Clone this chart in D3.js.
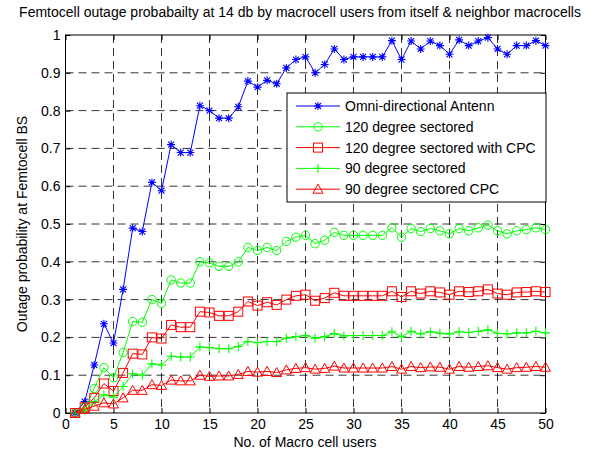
<!DOCTYPE html>
<html><head><meta charset="utf-8">
<script src="https://cdn.jsdelivr.net/npm/d3@7"></script>
<style>body{margin:0;background:#fff}svg{display:block}text{font-family:"Liberation Sans",Arial,sans-serif}</style>
</head><body><svg id="c" width="595" height="450"></svg>
<script>
const users = d3.range(1, 51);
const omni = [0,0.03,0.127,0.236,0.185,0.327,0.489,0.48,0.61,0.588,0.71,0.689,0.689,0.813,0.80,0.78,0.78,0.81,0.878,0.862,0.88,0.871,0.913,0.935,0.942,0.90,0.922,0.963,0.935,0.942,0.942,0.942,0.942,0.985,0.935,0.984,0.963,0.984,0.972,0.949,0.987,0.972,0.984,0.993,0.963,0.949,0.972,0.972,0.985,0.972];
const sec120 = [0,0.015,0.065,0.12,0.093,0.16,0.242,0.24,0.30,0.29,0.352,0.344,0.344,0.40,0.397,0.388,0.388,0.40,0.438,0.43,0.438,0.43,0.454,0.465,0.47,0.448,0.457,0.478,0.47,0.47,0.47,0.47,0.47,0.49,0.465,0.488,0.48,0.488,0.482,0.474,0.488,0.482,0.49,0.497,0.482,0.474,0.482,0.485,0.49,0.485];
const sec120cpc = [0,0.015,0.04,0.078,0.058,0.106,0.157,0.155,0.20,0.197,0.233,0.227,0.227,0.268,0.266,0.257,0.257,0.268,0.295,0.284,0.293,0.286,0.30,0.31,0.313,0.297,0.304,0.318,0.31,0.31,0.31,0.31,0.31,0.322,0.307,0.322,0.316,0.322,0.319,0.313,0.322,0.32,0.322,0.327,0.316,0.313,0.319,0.32,0.322,0.32];
const sec90 = [0,0.008,0.03,0.048,0.042,0.07,0.104,0.10,0.13,0.127,0.15,0.148,0.148,0.175,0.173,0.17,0.17,0.176,0.189,0.186,0.189,0.189,0.198,0.202,0.205,0.198,0.202,0.21,0.204,0.205,0.205,0.205,0.205,0.215,0.202,0.216,0.209,0.215,0.211,0.209,0.215,0.213,0.216,0.22,0.211,0.209,0.212,0.212,0.216,0.212];
const sec90cpc = [0,0.01,0.018,0.027,0.024,0.04,0.06,0.06,0.075,0.073,0.087,0.085,0.085,0.10,0.097,0.098,0.098,0.102,0.11,0.108,0.11,0.107,0.114,0.118,0.12,0.116,0.118,0.124,0.119,0.119,0.119,0.119,0.119,0.123,0.116,0.123,0.12,0.122,0.121,0.116,0.123,0.121,0.123,0.125,0.12,0.116,0.12,0.121,0.123,0.121];
const seriesNames = ["Omni-directional Antenn","120 degree sectored","120 degree sectored with CPC","90 degree sectored","90 degree sectored CPC"];
const seriesColors = ["#0000ff","#00ff00","#ff0000","#00ff00","#ff0000"];
const seriesMarkers = ["star","circle","square","plus","triangle"];
const xTicks = [0,5,10,15,20,25,30,35,40,45,50];
const yTicks = [0,0.1,0.2,0.3,0.4,0.5,0.6,0.7,0.8,0.9,1];
const titleText = "Femtocell outage probabailty at 14 db by macrocell users from itself & neighbor macrocells";
const xLabel = "No. of Macro cell users";
const yLabel = "Outage probability at Femtocell BS";

const allSeries = [omni, sec120, sec120cpc, sec90, sec90cpc];
const L = 65.5, R = 545.5, T = 35, B = 413;
const FS = 14;
const svg = d3.select("#c");
const x = d3.scaleLinear().domain([0, 50]).range([L, R]);
const y = d3.scaleLinear().domain([0, 1]).range([B, T]);

// grid
const g = svg.append("g");
g.selectAll(".vg").data(xTicks.slice(1, -1)).join("line")
  .attr("x1", d => x(d)).attr("x2", d => x(d)).attr("y1", T).attr("y2", B)
  .attr("stroke", "#000").attr("stroke-width", 0.8).attr("stroke-dasharray", "8,5");
g.selectAll(".hg").data(yTicks.slice(1, -1)).join("line")
  .attr("y1", d => y(d)).attr("y2", d => y(d)).attr("x1", L).attr("x2", R)
  .attr("stroke", "#000").attr("stroke-width", 0.8).attr("stroke-dasharray", "8,5");

// axes
const fmtY = d => d === 0 ? "0" : d === 1 ? "1" : d3.format(".1f")(d);
svg.append("g").attr("transform", `translate(0,${B})`)
  .call(d3.axisBottom(x).tickValues(xTicks).tickSizeInner(-5).tickSizeOuter(0).tickPadding(6));
svg.append("g").attr("transform", `translate(${L},0)`)
  .call(d3.axisLeft(y).tickValues(yTicks).tickFormat(fmtY).tickSizeInner(-5).tickSizeOuter(0).tickPadding(5));
svg.append("g").attr("transform", `translate(0,${T})`)
  .call(d3.axisTop(x).tickValues(xTicks).tickSizeInner(-5).tickSizeOuter(0).tickFormat(""));
svg.append("g").attr("transform", `translate(${R},0)`)
  .call(d3.axisRight(y).tickValues(yTicks).tickSizeInner(-5).tickSizeOuter(0).tickFormat(""));
svg.selectAll(".domain").remove();
svg.selectAll(".tick line").attr("stroke", "#000");
svg.selectAll(".tick text").attr("font-size", FS).attr("fill", "#000")
  .attr("font-family", '"Liberation Sans",Arial,sans-serif');
svg.append("rect").attr("x", L).attr("y", T).attr("width", R - L).attr("height", B - T)
  .attr("fill", "none").attr("stroke", "#000").attr("stroke-width", 1);

// markers
function drawMarker(sel, type, color) {
  if (type === "star") {
    sel.append("path").attr("d", "M-4,0H4M0,-4V4M-3,-3L3,3M-3,3L3,-3")
      .attr("stroke", color).attr("stroke-width", 1.1).attr("fill", "none");
  } else if (type === "circle") {
    sel.append("circle").attr("r", 4.2).attr("stroke", color).attr("fill", "none").attr("stroke-width", 1);
  } else if (type === "square") {
    sel.append("rect").attr("x", -4.5).attr("y", -4.5).attr("width", 9).attr("height", 9)
      .attr("stroke", color).attr("fill", "none").attr("stroke-width", 1);
  } else if (type === "plus") {
    sel.append("path").attr("d", "M-4.5,0H4.5M0,-4.5V4.5").attr("stroke", color).attr("stroke-width", 1.1);
  } else if (type === "triangle") {
    sel.append("path").attr("d", "M0,-5L5,4L-5,4Z").attr("stroke", color).attr("fill", "none").attr("stroke-width", 1);
  }
}

const line = d3.line().x((d, i) => x(users[i])).y(d => y(d));
const plot = svg.append("g");
allSeries.forEach((s, k) => {
  plot.append("path").datum(s).attr("d", line).attr("fill", "none")
    .attr("stroke", seriesColors[k]).attr("stroke-width", 1);
  plot.selectAll(null).data(s).join("g")
    .attr("transform", (d, i) => `translate(${x(users[i])},${y(d)})`)
    .each(function () { drawMarker(d3.select(this), seriesMarkers[k], seriesColors[k]); });
});

// legend
const lg = svg.append("g");
lg.append("rect").attr("x", 287).attr("y", 93).attr("width", 259).attr("height", 109)
  .attr("fill", "#fff").attr("stroke", "#000").attr("stroke-width", 1);
seriesNames.forEach((n, k) => {
  const cy = 106 + k * 20.8;
  lg.append("line").attr("x1", 296).attr("x2", 340).attr("y1", cy).attr("y2", cy)
    .attr("stroke", seriesColors[k]).attr("stroke-width", 1);
  drawMarker(lg.append("g").attr("transform", `translate(318,${cy})`), seriesMarkers[k], seriesColors[k]);
  lg.append("text").attr("x", 345).attr("y", cy + 5).attr("font-size", FS).text(n);
});

// titles
svg.append("text").attr("x", 300).attr("y", 17).attr("text-anchor", "middle").attr("font-size", FS).text(titleText);
svg.append("text").attr("x", 305).attr("y", 447).attr("text-anchor", "middle").attr("font-size", FS).text(xLabel);
svg.append("text").attr("transform", `translate(27,${(T + B) / 2}) rotate(-90)`)
  .attr("text-anchor", "middle").attr("font-size", FS).text(yLabel);
</script></body></html>
